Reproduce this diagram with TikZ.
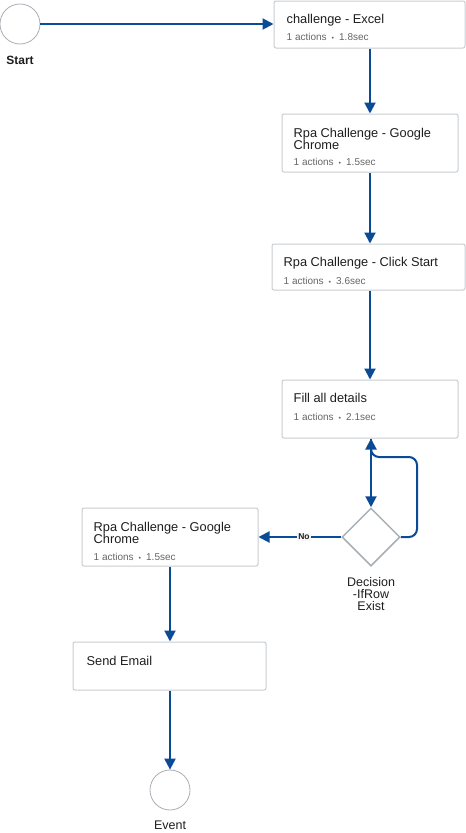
\documentclass[tikz,border=0pt]{standalone}
\usepackage{fontspec}
\setmainfont{Liberation Sans}
\usetikzlibrary{arrows.meta,shapes.geometric}
\definecolor{flowblue}{HTML}{0B4A94}
\definecolor{boxgray}{HTML}{C9CDD1}
\definecolor{diagray}{HTML}{A9AFB4}
\definecolor{titlecol}{HTML}{1E1E1E}
\definecolor{subcol}{HTML}{666666}
\definecolor{nobg}{HTML}{F6F6F6}
\tikzset{
  x=1pt, y=-1pt,
  stepbox/.style={draw=boxgray, line width=1pt, rounded corners=2pt, fill=white, inner sep=0pt},
  ttl/.style={anchor=base west, inner sep=0pt, text=titlecol, font=\fontsize{12.8}{12}\selectfont, align=left},
  sub/.style={anchor=base west, inner sep=0pt, text=subcol, font=\fontsize{10}{10}\selectfont},
  evt/.style={circle, draw=diagray, line width=0.8pt, minimum size=40pt, inner sep=0pt},
  lbl/.style={text=titlecol, font=\fontsize{12.5}{12}\selectfont, inner sep=0pt},
  flow/.style={draw=flowblue, line width=2pt, -{Triangle[length=11pt,width=11pt]}},
  dec/.style={diamond, draw=diagray, line width=1.5pt, minimum width=58pt, minimum height=58pt, inner sep=0pt, aspect=1},
}
\newcommand{\dotsep}{\hspace{0.5em}{\fontsize{7}{7}\selectfont •}\hspace{0.5em}}
\begin{document}
\begin{tikzpicture}
\useasboundingbox[fill=white] (0,0) rectangle (466,833);
% events
\node[evt] (start) at (20,24) {};
\node[lbl, font=\bfseries\fontsize{12}{12}\selectfont] (startlbl) at (20,60) {Start};
\node[evt] (event) at (170,790) {};
\node[lbl] (eventlbl) at (170,825) {Event};
% boxes
\node[stepbox, minimum width=191pt, minimum height=47pt] (b1) at (369.5,24.5) {};
\node[ttl] (b1t) at ([shift={(13,22.5)}]b1.north west) {challenge - Excel};
\node[sub] (b1s) at ([shift={(13,39.5)}]b1.north west) {1 actions\dotsep1.8sec};

\node[stepbox, minimum width=176pt, minimum height=58pt] (b2) at (370,143) {};
\node[ttl] (b2t) at ([shift={(12,35.5)}]b2.north west) {Rpa Challenge - Google\\Chrome};
\node[sub] (b2s) at ([shift={(12,52)}]b2.north west) {1 actions\dotsep1.5sec};

\node[stepbox, minimum width=193pt, minimum height=46pt] (b3) at (368.5,267) {};
\node[ttl] (b3t) at ([shift={(12,23)}]b3.north west) {Rpa Challenge - Click Start};
\node[sub] (b3s) at ([shift={(12,40.5)}]b3.north west) {1 actions\dotsep3.6sec};

\node[stepbox, minimum width=176pt, minimum height=58pt] (b4) at (370,409) {};
\node[ttl] (b4t) at ([shift={(12,22.5)}]b4.north west) {Fill all details};
\node[sub] (b4s) at ([shift={(12,40.5)}]b4.north west) {1 actions\dotsep2.1sec};

\node[dec] (d) at (371,537) {};
\node[lbl, align=center] (dl) at (371,594) {Decision\\-IfRow\\Exist};

\node[stepbox, minimum width=176pt, minimum height=58pt] (b5) at (170,537) {};
\node[ttl] (b5t) at ([shift={(12,35.5)}]b5.north west) {Rpa Challenge - Google\\Chrome};
\node[sub] (b5s) at ([shift={(12,53)}]b5.north west) {1 actions\dotsep1.5sec};

\node[stepbox, minimum width=193pt, minimum height=48pt] (b6) at (169.5,666) {};
\node[ttl] (b6t) at ([shift={(14,23.5)}]b6.north west) {Send Email};

\coordinate (loopc) at (417,457);
% connectors
\draw[flow] (start) -- (b1.west |- start);
\draw[flow] (b1.south -| b2.north) -- (b2.north);
\draw[flow] (b2.south) -- (b2.south |- b3.north);
\draw[flow] (b3.south -| b4.north) -- (b4.north);
\draw[flow] (b4.south -| d.north) -- (d.north);
\draw[flow, rounded corners=8pt] (d.east) -| (loopc) -| (b4.south -| d.north);
\draw[flow] (d.west) -- node[fill=nobg, inner sep=1.5pt, text=titlecol, font=\bfseries\fontsize{8.5}{9}\selectfont, pos=0.45] (nolbl) {No} (b5.east);
\draw[flow] (b5.south) -- (b5.south |- b6.north);
\draw[flow] (b6.south -| event.north) -- (event.north);
\end{tikzpicture}
\end{document}
